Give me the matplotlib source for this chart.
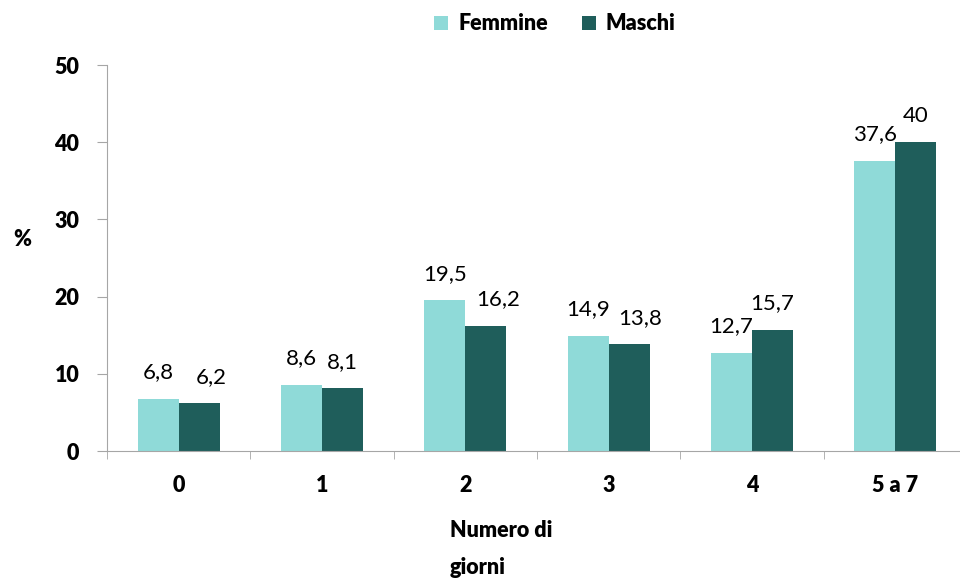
import matplotlib.pyplot as plt
import numpy as np

categories = ['0', '1', '2', '3', '4', '5 a 7']
femmine = [6.8, 8.6, 19.5, 14.9, 12.7, 37.6]
maschi = [6.2, 8.1, 16.2, 13.8, 15.7, 40]
series_names = ['Femmine', 'Maschi']

col_f = '#8fdad8'
col_m = '#1f5e5b'
grey = '#a6a6a6'
font = ['Lato', 'DejaVu Sans']
plt.rcParams['font.family'] = font
bw = 'heavy'

fig = plt.figure(figsize=(9.6, 5.82), dpi=100)
ax = fig.add_axes([107 / 960, 131 / 582, 860 / 960, 386 / 582])

x = np.arange(len(categories))
w = 0.286
bf = ax.bar(x - w / 2, femmine, w, color=col_f, label=series_names[0])
bm = ax.bar(x + w / 2, maschi, w, color=col_m, label=series_names[1])

def fmt(v):
    return ('%g' % v).replace('.', ',')

# Excel nudged some Maschi labels to the right
nudge = {0: 9, 2: 9, 3: 8}
for i, (f, m) in enumerate(zip(femmine, maschi)):
    ax.annotate(fmt(f), (x[i] - w / 2, f), xytext=(0, 19), textcoords='offset points',
                ha='center', va='center', fontsize=16, color='#000000')
    ax.annotate(fmt(m), (x[i] + w / 2, m), xytext=(nudge.get(i, 0), 19), textcoords='offset points',
                ha='center', va='center', fontsize=16, color='#000000')

ax.set_xlim(-0.5, len(categories) - 0.5)
ax.set_ylim(0, 50)
ax.set_yticks(range(0, 51, 10))
ax.set_xticks(x)
ax.set_xticklabels(categories, fontsize=15.5, fontweight=bw)
ax.set_xticks(np.arange(-0.5, len(categories), 1), minor=True)
ax.tick_params(axis='x', which='major', length=0, pad=17)
ax.tick_params(axis='x', which='minor', length=6, color=grey, direction='out')
ax.tick_params(axis='y', length=7, color=grey, pad=13, labelsize=15.5)
for lab in ax.get_yticklabels():
    lab.set_fontweight(bw)

for s in ['top', 'right']:
    ax.spines[s].set_visible(False)
for s in ['left', 'bottom']:
    ax.spines[s].set_color(grey)

fig.text(22 / 960, 1 - 240 / 582, '%', fontsize=15.5, fontweight=bw, ha='center', va='center')
fig.text(450 / 960, 1 - 520 / 582, 'Numero di\ngiorni', fontsize=15.5, fontweight=bw,
         ha='left', va='top', linespacing=1.95)

fig.legend(handles=[bf, bm], loc='center', bbox_to_anchor=(555 / 960, 1 - 24 / 582), ncol=2,
           frameon=False, prop={'weight': bw, 'size': 15.5}, handlelength=0.65, handleheight=0.65,
           handletextpad=0.45, columnspacing=1.6)

fig.savefig('out.png', dpi=100)
